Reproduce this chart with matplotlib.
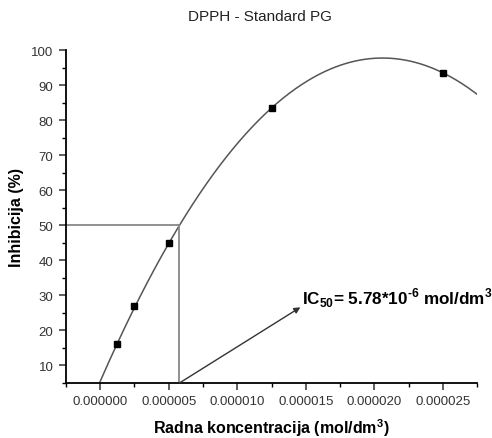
import numpy as np
import matplotlib
matplotlib.use("Agg")
import matplotlib.pyplot as plt
from matplotlib.ticker import MultipleLocator, FormatStrFormatter

plt.rcParams["font.family"] = ["Liberation Sans", "DejaVu Sans"]
plt.rcParams["mathtext.fontset"] = "custom"
plt.rcParams["mathtext.rm"] = "Liberation Sans"
plt.rcParams["mathtext.bf"] = "Liberation Sans:bold"

# measured points (concentration in mol/dm3, inhibition in %)
conc = [1.25e-6, 2.5e-6, 5.0e-6, 1.25e-5, 2.5e-5]
inhib = [16.0, 26.9, 44.8, 83.4, 93.5]
ic50 = 5.78e-6
ic50_level = 50.0
arrow_tip = (1.46e-5, 26.6)

fig = plt.figure(figsize=(4.92, 4.39), dpi=100)
ax = fig.add_axes([0.134, 0.1253, 0.836, 0.7585])

# quadratic fit through the measured points
coef = np.polyfit(conc, inhib, 2)
xs = np.linspace(0, 2.75e-5, 300)
ax.plot(xs, np.polyval(coef, xs), color="#555555", lw=1.1)
ax.plot(conc, inhib, ls="none", marker="s", ms=4.5, color="black")

ax.plot([-2.5e-6, ic50], [ic50_level, ic50_level], color="#888888", lw=1.3)
ax.plot([ic50, ic50], [5, ic50_level], color="#888888", lw=1.3)
ax.annotate("", xy=arrow_tip, xytext=(ic50, 5),
            arrowprops=dict(arrowstyle="-|>", color="#333333", lw=1.0,
                            mutation_scale=9, shrinkA=0, shrinkB=0))
ax.text(1.47e-5, 29.4,
        "IC$_{\\mathbf{50}}$= 5.78*10$^{\\mathbf{\u2010 6}}$ mol/dm$^{\\mathbf{3}}$",
        fontsize=12.3, fontweight="bold", ha="left", va="center")

ax.set_xlim(-2.5e-6, 2.75e-5)
ax.set_ylim(5, 100)
ax.xaxis.set_major_locator(MultipleLocator(5e-6))
ax.xaxis.set_minor_locator(MultipleLocator(2.5e-6))
ax.xaxis.set_major_formatter(FormatStrFormatter("%.6f"))
ax.yaxis.set_major_locator(MultipleLocator(10))
ax.yaxis.set_minor_locator(MultipleLocator(5))
ax.yaxis.set_major_formatter(FormatStrFormatter("%d"))
for s in ("top", "right"):
    ax.spines[s].set_visible(False)
for s in ("left", "bottom"):
    ax.spines[s].set_linewidth(1.3)
ax.tick_params(which="major", length=5, width=1.1, labelsize=9.5,
               colors="#333333", pad=4)
ax.tick_params(which="minor", length=3, width=1.0)

ax.set_xlabel("Radna koncentracija (mol/dm$^{\\mathbf{3}}$)", fontsize=11.5,
              fontweight="bold", labelpad=6)
ax.set_ylabel("Inhibicija (%)", fontsize=11.5, fontweight="bold", labelpad=5)
fig.text(260 / 492, 1 - 17 / 439, "DPPH - Standard PG", fontsize=11,
         ha="center", va="center", color="#222222")

fig.savefig("out.png", dpi=100)
